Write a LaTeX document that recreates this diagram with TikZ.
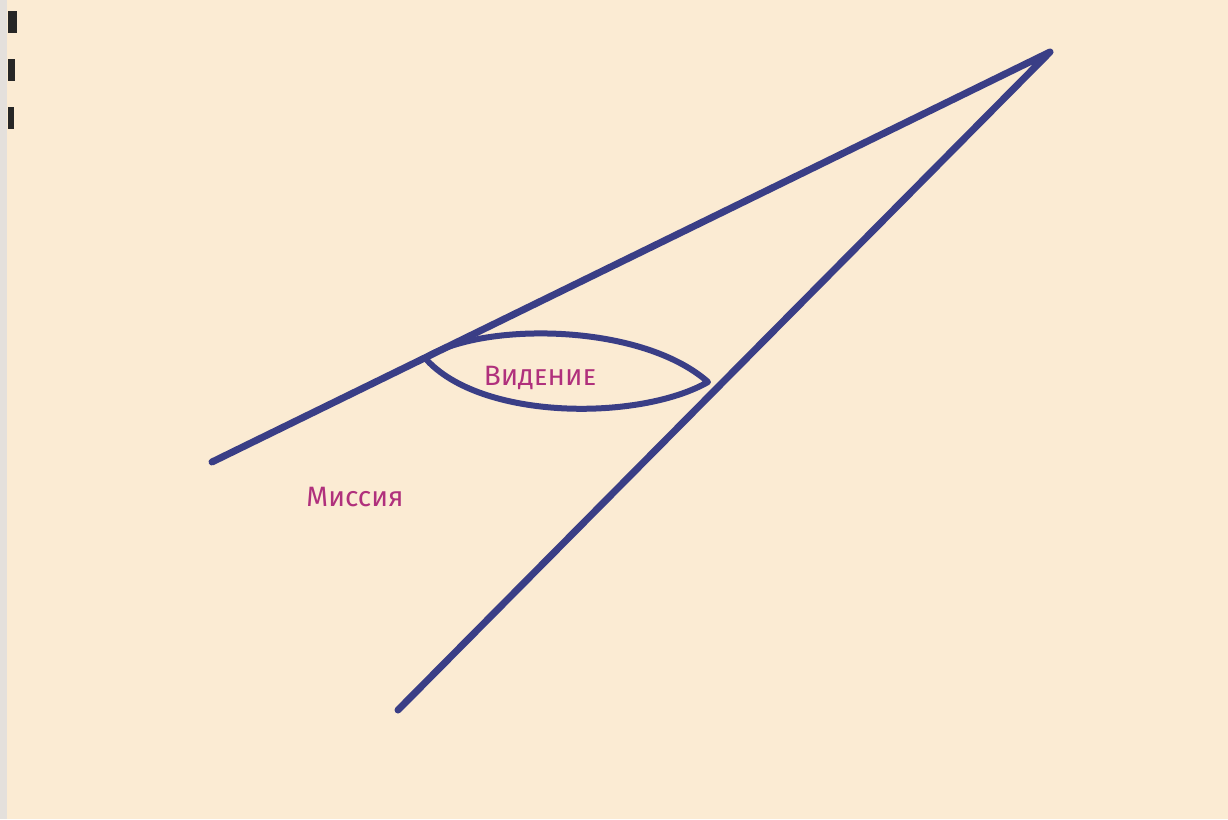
\documentclass[tikz,border=0pt]{standalone}
\usepackage{fontspec}
\setmainfont{Fira Sans}
\definecolor{paper}{HTML}{FBEBD3}
\definecolor{ink}{HTML}{3A3E86}
\definecolor{pen}{HTML}{B0307C}
\definecolor{edge}{HTML}{E4E0DC}
\begin{document}
\begin{tikzpicture}[x=1pt,y=-1pt,
  stroke/.style={draw=ink,line width=7pt,line cap=round,line join=round},
  label/.style={text=pen,font=\fontsize{28}{30}\selectfont,inner sep=0pt},
  tick/.style={fill=black!85}]
\useasboundingbox (0,0) rectangle (1228,819);
\fill[paper] (0,0) rectangle (1228,819);
\fill[edge] (0,0) rectangle (7,819);
% left edge marks
\fill[tick] (8,11) rectangle (17,33);
\fill[tick] (8,59) rectangle (15,81);
\fill[tick] (8,107) rectangle (14,129);
% coordinates
\coordinate (apex) at (1050,52);
\coordinate (mend) at (212,462);
\coordinate (vend) at (398,710);
\coordinate (lensL) at (425,358);
\coordinate (lensR) at (708,382);
% main lines
\draw[stroke] (mend) -- (apex) -- (vend);
% lens
\draw[stroke,line width=6pt] (lensL) .. controls (480,322) and (640,322) .. (lensR)
   .. controls (640,421) and (480,421) .. (lensL);
% labels
\node[label] (vid) at (540,378) {В\textsc{идение}};
\node[label] (mis) at (355,497) {Миссия};
\end{tikzpicture}
\end{document}
